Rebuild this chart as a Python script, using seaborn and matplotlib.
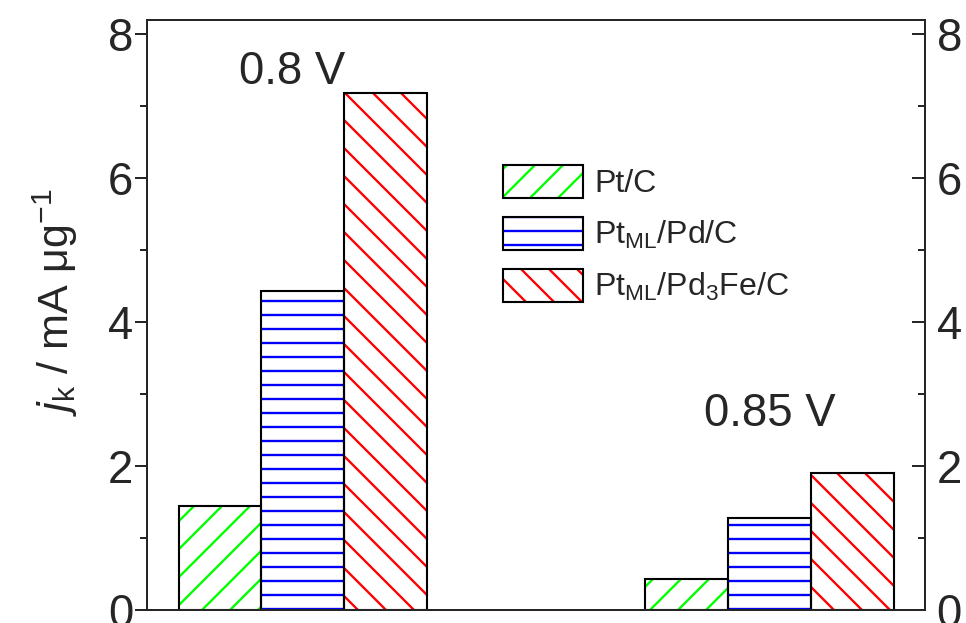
import matplotlib
matplotlib.use("Agg")
import matplotlib.pyplot as plt
import seaborn as sns
import pandas as pd
from matplotlib.patches import Patch
from matplotlib.legend_handler import HandlerTuple

# ---- data ----
potentials = ["0.8 V", "0.85 V"]
catalysts = ["Pt/C", r"Pt$_\mathregular{ML}$/Pd/C", r"Pt$_\mathregular{ML}$/Pd$_\mathregular{3}$Fe/C"]
jk_08 = [1.44, 4.43, 7.18]
jk_085 = [0.43, 1.28, 1.90]
colors = ["#00FF00", "#0000FF", "#FF0000"]
hatches = ["/", "-", "\\"]
yticks = [0, 2, 4, 6, 8]

rows = []
for pot, vals in zip(potentials, [jk_08, jk_085]):
    for cat, v in zip(catalysts, vals):
        rows.append({"potential": pot, "catalyst": cat, "jk": v})
df = pd.DataFrame(rows)

sns.set_style("white")
plt.rcParams["font.family"] = ["Liberation Sans", "DejaVu Sans"]
plt.rcParams["mathtext.fontset"] = "custom"
plt.rcParams["mathtext.rm"] = "Liberation Sans"
plt.rcParams["mathtext.it"] = "Liberation Sans:italic"
plt.rcParams["hatch.linewidth"] = 2.0

DPI = 84
fig = plt.figure(figsize=(966 / DPI, 623 / DPI), dpi=DPI)
ax = fig.add_axes([147 / 966, 13 / 623, 778 / 966, 590 / 623])

W = 0.532
sns.barplot(data=df, x="potential", y="jk", hue="catalyst", hue_order=catalysts,
            order=potentials, palette=colors, width=W, errorbar=None,
            legend=False, ax=ax)
for cont, col, h in zip(ax.containers, colors, hatches):
    for p in cont:
        p.set_facecolor("white")
        p.set_edgecolor(col)
        p.set_hatch(h)
        p.set_linewidth(0)
# outlines
sns.barplot(data=df, x="potential", y="jk", hue="catalyst", hue_order=catalysts,
            order=potentials, palette=["black"] * 3, width=W, errorbar=None,
            fill=False, linewidth=1.8, legend=False, ax=ax)

ax.set_xlim(-0.334, 1.333)
ax.set_ylim(0, 8.19)
ax.set_xticks([])
ax.set_xlabel("")
ax.set_yticks(yticks)
ax.set_yticks([1, 3, 5, 7], minor=True)
ax.tick_params(axis="y", which="major", direction="out", length=10, width=1.7,
               labelsize=39, pad=2, left=True)
ax.tick_params(axis="y", which="minor", direction="out", length=6, width=1.7, left=True)
for s in ax.spines.values():
    s.set_linewidth(1.7)
    s.set_color("black")
ax.set_ylabel(r"$\mathit{j}_\mathregular{k}$ / mA μg$^\mathregular{-1}$", fontsize=37)
ax.yaxis.set_label_coords(-0.086, 0.522)

ax2 = ax.twinx()
ax2.set_ylim(ax.get_ylim())
ax2.set_yticks(yticks)
ax2.set_yticks([1, 3, 5, 7], minor=True)
ax2.tick_params(axis="y", which="major", direction="in", length=11, width=1.7,
                labelsize=39, pad=10, right=True)
ax2.tick_params(axis="y", which="minor", direction="in", length=6, width=1.7, right=True)
for s in ax2.spines.values():
    s.set_linewidth(1.7)

# annotations for the potential groups
ax.text(-0.024, 7.47, potentials[0], fontsize=39, ha="center", va="center")
ax.text(1.0, 2.72, potentials[1], fontsize=39, ha="center", va="center")

handles = []
for col, h in zip(colors, hatches):
    handles.append((Patch(facecolor="white", edgecolor=col, hatch=h, linewidth=0),
                    Patch(facecolor="none", edgecolor="black", linewidth=1.8)))
ax.legend(handles, catalysts, handler_map={tuple: HandlerTuple(ndivide=1, pad=0)},
          loc="upper left", bbox_to_anchor=(0.4576, 0.755), frameon=False,
          fontsize=27.5, handlelength=2.5, handleheight=1.21, handletextpad=0.35,
          labelspacing=0.55, borderpad=0, borderaxespad=0)

fig.savefig("out.png", dpi=DPI)
